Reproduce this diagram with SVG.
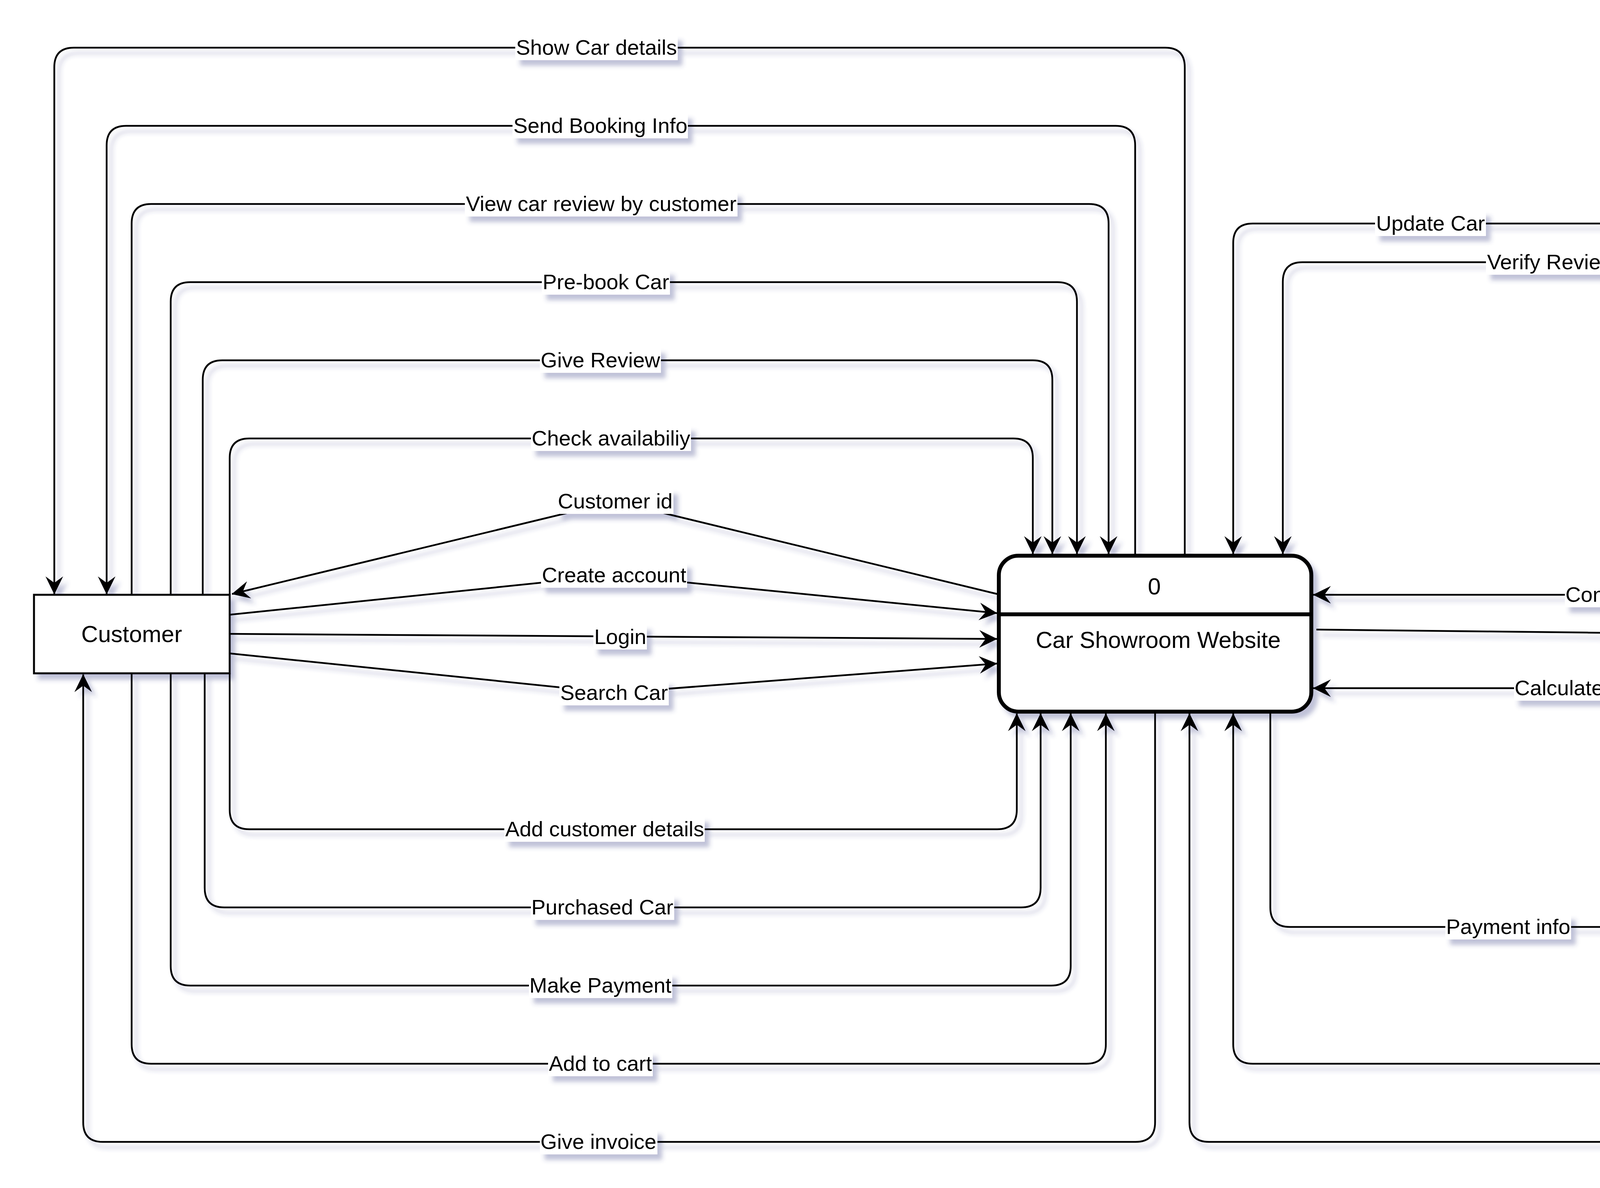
<svg xmlns="http://www.w3.org/2000/svg" width="5595" height="3040" viewBox="0 0 5595 3040">
<defs>
<style>
.e{fill:none;stroke:#000;stroke-width:4.5;stroke-linejoin:round}
.a{marker-end:url(#arr)}
.lb{fill:#fff;stroke:none}
.lt{font-family:"Liberation Sans",Arial,Helvetica,sans-serif;font-size:54.5px;fill:#000;text-anchor:middle}
.nt{font-family:"Liberation Sans",Arial,Helvetica,sans-serif;font-size:59.5px;fill:#000;text-anchor:middle}
.box{fill:#fff;stroke:#000;stroke-width:5}
.proc{fill:#fff;stroke:#000;stroke-width:10}
</style>
<marker id="arr" markerUnits="userSpaceOnUse" markerWidth="46" markerHeight="46" viewBox="0 0 45 44" refX="44" refY="22" orient="auto">
<path d="M0,0 L45,22 L0,44 L16,22 Z" fill="#000"/>
</marker>
<filter id="sh" x="-2%" y="-2%" width="104%" height="104%">
<feGaussianBlur in="SourceAlpha" stdDeviation="6"/>
<feOffset dx="12" dy="14" result="b"/>
<feFlood flood-color="#3b4185" flood-opacity="0.32"/>
<feComposite in2="b" operator="in"/>
<feMerge><feMergeNode/><feMergeNode in="SourceGraphic"/></feMerge>
</filter>
</defs>
<rect width="5595" height="3040" fill="#fff"/>
<g filter="url(#sh)">
<g id="connectors">
<path class="e a" d="M3033,1422 V172 Q3033,122 2983,122 H189 Q139,122 139,172 V1520"/>
<path class="e a" d="M2906,1422 V372 Q2906,322 2856,322 H323 Q273,322 273,372 V1520"/>
<path class="e a" d="M337,1522 V572 Q337,522 387,522 H2788 Q2838,522 2838,572 V1417"/>
<path class="e a" d="M437,1522 V772 Q437,722 487,722 H2707 Q2757,722 2757,772 V1417"/>
<path class="e a" d="M519,1522 V972 Q519,922 569,922 H2644 Q2694,922 2694,972 V1417"/>
<path class="e a" d="M588,1522 V1172 Q588,1122 638,1122 H2594 Q2644,1122 2644,1172 V1417"/>
<path class="e a" d="M2557,1521 L1575,1283 L594,1520"/>
<path class="e a" d="M588,1573 L1572,1472 L2552,1569"/>
<path class="e a" d="M588,1622 L2552,1635"/>
<path class="e a" d="M588,1672 L1572,1773 L2552,1698"/>
<path class="e a" d="M588,1723 V2072 Q588,2122 638,2122 H2553 Q2603,2122 2603,2072 V1826"/>
<path class="e a" d="M524,1723 V2272 Q524,2322 574,2322 H2614 Q2664,2322 2664,2272 V1826"/>
<path class="e a" d="M437,1723 V2472 Q437,2522 487,2522 H2691 Q2741,2522 2741,2472 V1826"/>
<path class="e a" d="M337,1723 V2672 Q337,2722 387,2722 H2781 Q2831,2722 2831,2672 V1826"/>
<path class="e a" d="M2957,1821 V2872 Q2957,2922 2907,2922 H263 Q213,2922 213,2872 V1726"/>
<path class="e a" d="M5022,572 H3207 Q3157,572 3157,622 V1417"/>
<path class="e a" d="M5022,671 H3334 Q3284,671 3284,721 V1417"/>
<path class="e a" d="M5272,722 L5286,1472 Q5287,1522 5236,1522 H3362"/>
<path class="e a" d="M3370,1611 L4354,1622 H5347 Q5397,1622 5397,1672 V2319"/>
<path class="e a" d="M5273,2322 V1811 Q5273,1761 5223,1761 H3362"/>
<path class="e a" d="M3252,1821 V2322 Q3252,2372 3302,2372 H5020"/>
<path class="e a" d="M5149,2522 V2672 Q5149,2722 5099,2722 H3207 Q3157,2722 3157,2672 V1826"/>
<path class="e a" d="M5273,2522 V2872 Q5273,2922 5223,2922 H3095 Q3045,2922 3045,2872 V1826"/>

<rect class="lb" x="1319" y="90" width="416" height="64"/><text class="lt" x="1527" y="140">Show Car details</text>
<rect class="lb" x="1312" y="290" width="449" height="64"/><text class="lt" x="1537" y="340">Send Booking Info</text>
<rect class="lb" x="1190" y="490" width="698" height="64"/><text class="lt" x="1539" y="540">View car review by customer</text>
<rect class="lb" x="1387" y="690" width="328" height="64"/><text class="lt" x="1551" y="740">Pre-book Car</text>
<rect class="lb" x="1382" y="890" width="310" height="64"/><text class="lt" x="1537" y="940">Give Review</text>
<rect class="lb" x="1359" y="1090" width="410" height="64"/><text class="lt" x="1564" y="1140">Check availabiliy</text>
<rect class="lb" x="1426" y="1251" width="298" height="64"/><text class="lt" x="1575" y="1301">Customer id</text>
<rect class="lb" x="1385" y="1440" width="374" height="64"/><text class="lt" x="1572" y="1490">Create account</text>
<rect class="lb" x="1519" y="1598" width="137" height="64"/><text class="lt" x="1588" y="1648">Login</text>
<rect class="lb" x="1432" y="1741" width="280" height="64"/><text class="lt" x="1572" y="1791">Search Car</text>
<rect class="lb" x="1291" y="2090" width="513" height="64"/><text class="lt" x="1548" y="2140">Add customer details</text>
<rect class="lb" x="1359" y="2290" width="367" height="64"/><text class="lt" x="1542" y="2340">Purchased Car</text>
<rect class="lb" x="1354" y="2490" width="367" height="64"/><text class="lt" x="1537" y="2540">Make Payment</text>
<rect class="lb" x="1403" y="2690" width="268" height="64"/><text class="lt" x="1537" y="2740">Add to cart</text>
<rect class="lb" x="1382" y="2890" width="301" height="64"/><text class="lt" x="1532" y="2940">Give invoice</text>
<rect class="lb" x="3520" y="540" width="284" height="64"/><text class="lt" x="3662" y="590">Update Car</text>
<rect class="lb" x="3804" y="639" width="337" height="64"/><text class="lt" x="3972" y="689">Verify Review</text>
<rect class="lb" x="4006" y="1490" width="537" height="64"/><text class="lt" x="4274" y="1540">Control Whole system</text>
<rect class="lb" x="4648" y="1590" width="180" height="64"/><text class="lt" x="4738" y="1640">Bill info</text>
<rect class="lb" x="3876" y="1729" width="343" height="64"/><text class="lt" x="4047" y="1779">Calculated bill</text>
<rect class="lb" x="3700" y="2340" width="322" height="64"/><text class="lt" x="3861" y="2390">Payment info</text>
<rect class="lb" x="4138" y="2690" width="374" height="64"/><text class="lt" x="4325" y="2740">Verify Payment</text>
<rect class="lb" x="4100" y="2890" width="325" height="64"/><text class="lt" x="4262" y="2940">Make Invoice</text>
</g>
<g id="customer">
<rect class="box" x="87" y="1522" width="501" height="201"/>
<text class="nt" x="337" y="1643">Customer</text>
</g>
<g id="process">
<rect class="proc" x="2557" y="1422" width="800" height="399" rx="50" ry="50"/>
<path d="M2557,1572 H3357" fill="none" stroke="#000" stroke-width="10"/>
<text class="nt" x="2955" y="1521">0</text>
<text class="nt" x="2965" y="1658">Car Showroom Website</text>
</g>
<g id="admin">
<rect class="box" x="5022" y="521" width="502" height="201"/>
<text class="nt" x="5273" y="643">Admin</text>
</g>
<g id="accounts">
<rect class="box" x="5023" y="2322" width="502" height="200"/>
<text class="nt" x="5274" y="2443">Accounts</text>
</g>
</g>
</svg>
